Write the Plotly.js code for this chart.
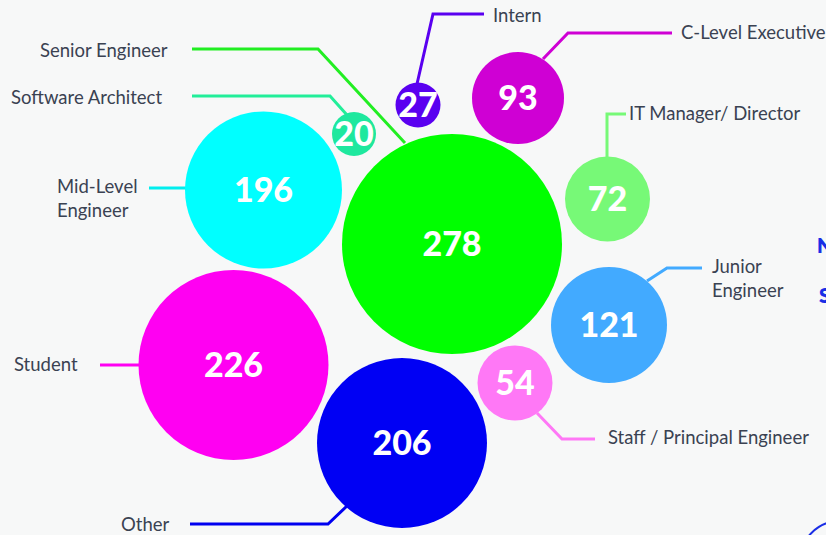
<!DOCTYPE html>
<html>
<head>
<meta charset="utf-8">
<script src="https://cdn.plot.ly/plotly-3.0.1.min.js"></script>
<style>
  html, body { margin: 0; padding: 0; background: #f7f8f8; }
  #chart { width: 826px; height: 535px; }
</style>
</head>
<body>
<div id="chart"></div>
<script>
// ---- data ----
const categories = ["Senior Engineer", "Student", "Other", "Mid-Level Engineer", "Junior Engineer",
  "C-Level Executive", "IT Manager/ Director", "Staff / Principal Engineer", "Intern", "Software Architect"];
const values = [278, 226, 206, 196, 121, 93, 72, 54, 27, 20];

// ---- styles ----
const colors = ["#00ff00", "#ff00f2", "#0000f4", "#00ffff", "#42aaff",
  "#cf00d4", "#77f977", "#ff78f6", "#5a00f0", "#1ee89e"];
const lineColors = ["#22ee22", "#ff00f2", "#0000f0", "#00eeee", "#42aaff",
  "#cf00d4", "#77f977", "#ff78f6", "#5a00f0", "#22ee99"];

// ---- packed-bubble layout (pixel space) ----
const bubbleX = [452, 233.5, 402, 263.5, 609, 518, 607.5, 515, 418, 354];
const bubbleY = [244, 365, 443, 190, 325, 98, 199, 383, 105, 134];
const bubbleD = [220, 190, 170, 157, 116, 92, 85, 75, 45, 44];
const textDy = 3;

// label placement: [x, y, anchor]
const labelPos = [
  [170, 50, "right"], [80, 364, "right"], [171, 524, "right"], [55, 198, "left"], [710, 278, "left"],
  [679, 32, "left"], [627, 113, "left"], [606, 437, "left"], [491, 15, "left"], [164, 97, "right"]
];
const labelText = ["Senior Engineer", "Student", "Other", "Mid-Level<br>Engineer", "Junior<br>Engineer",
  "C-Level Executive", "IT Manager/ Director", "Staff / Principal Engineer", "Intern", "Software Architect"];

// leader lines
const leaders = [
  [[192, 49], [318, 49], [405, 143]],
  [[100, 365], [139, 365]],
  [[190, 524], [328, 524], [348, 505]],
  [[149, 188], [186, 188]],
  [[702, 268], [667, 268], [647, 281]],
  [[672, 33], [568, 33], [543, 59]],
  [[626, 114], [607, 114], [607, 158]],
  [[595, 439], [562, 439], [537, 413]],
  [[484, 14], [433, 14], [417, 84]],
  [[192, 96], [330, 96], [347, 115]]
];

const shapes = leaders.map((pts, i) => ({
  type: "path", xref: "x", yref: "y",
  path: pts.map((p, j) => (j === 0 ? "M" : "L") + p[0] + "," + p[1]).join(" "),
  line: { color: lineColors[i], width: 3 }, layer: "below"
}));
shapes.push({
  type: "circle", xref: "x", yref: "y", x0: 800, y0: 521, x1: 880, y1: 601,
  line: { color: "#1a2ee6", width: 2 }, fillcolor: "rgba(0,0,0,0)"
});

const annotations = labelText.map((t, i) => ({
  x: labelPos[i][0], y: labelPos[i][1], xref: "x", yref: "y",
  text: t, showarrow: false, xanchor: labelPos[i][2], yanchor: "middle",
  align: labelPos[i][2], font: { family: "Lato, sans-serif", size: 18.5, color: "#3a4252" }
}));
annotations.push({ x: 815, y: 245, xref: "x", yref: "y", text: "N", showarrow: false, xanchor: "left",
  yanchor: "middle", font: { family: "Lato, sans-serif", size: 20, color: "#1a2ee6", weight: 800 } });
annotations.push({ x: 817, y: 295, xref: "x", yref: "y", text: "S", showarrow: false, xanchor: "left",
  yanchor: "middle", font: { family: "Lato, sans-serif", size: 20, color: "#1a2ee6", weight: 800 } });

const bubbles = {
  type: "scatter", mode: "markers",
  x: bubbleX, y: bubbleY,
  customdata: categories, text: values.map(String),
  hovertemplate: "%{customdata}: %{text}<extra></extra>",
  marker: { size: bubbleD, sizemode: "diameter", sizeref: 1, color: colors, opacity: 1, line: { width: 0 } },
  cliponaxis: false
};
const numbers = {
  type: "scatter", mode: "text",
  x: bubbleX, y: bubbleY.map(v => v + textDy),
  text: values.map(String),
  textposition: "middle center",
  textfont: { family: "Lato, sans-serif", size: 34, color: "#ffffff", weight: 900 },
  hoverinfo: "skip", cliponaxis: false
};

const layout = {
  width: 826, height: 535,
  margin: { l: 0, r: 0, t: 0, b: 0 },
  paper_bgcolor: "#f7f8f8", plot_bgcolor: "#f7f8f8",
  xaxis: { range: [0, 826], visible: false, fixedrange: true },
  yaxis: { range: [535, 0], visible: false, fixedrange: true },
  showlegend: false,
  shapes: shapes,
  annotations: annotations
};

Plotly.newPlot("chart", [bubbles, numbers], layout, { displayModeBar: false, staticPlot: true });
</script>
</body>
</html>
